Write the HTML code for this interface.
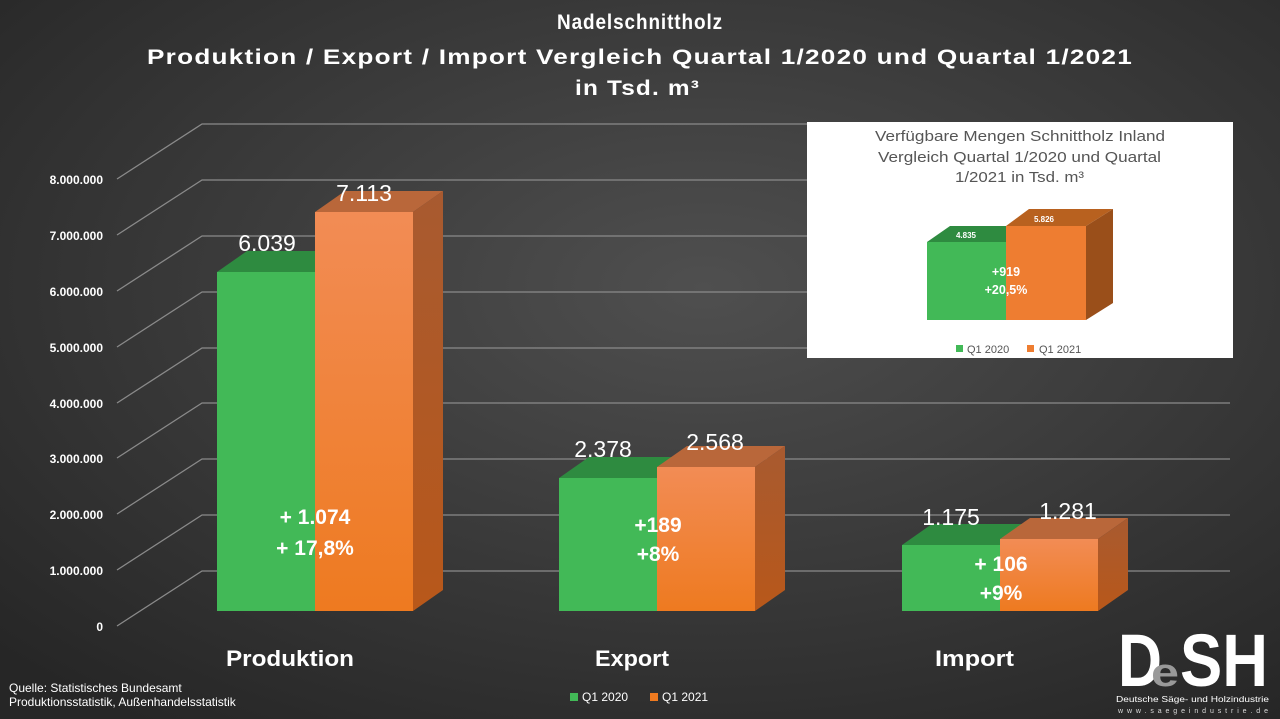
<!DOCTYPE html>
<html><head><meta charset="utf-8"><style>
html,body{margin:0;padding:0;width:1280px;height:719px;overflow:hidden;background:#333}
svg{display:block}
text{font-family:"Liberation Sans",sans-serif}
</style></head><body>
<svg width="1280" height="719" viewBox="0 0 1280 719" xmlns="http://www.w3.org/2000/svg">
<defs>
<radialGradient id="bg" cx="0.55" cy="0.4" r="0.75">
<stop offset="0" stop-color="#4f4f4f"/><stop offset="1" stop-color="#262626"/></radialGradient>
<linearGradient id="og" x1="0" y1="0" x2="0" y2="1"><stop offset="0" stop-color="#f28c55"/><stop offset="1" stop-color="#ee7a20"/></linearGradient>
<linearGradient id="os" x1="0" y1="0" x2="0" y2="1"><stop offset="0" stop-color="#a85a30"/><stop offset="1" stop-color="#b8581a"/></linearGradient>
</defs>
<rect width="1280" height="719" fill="url(#bg)"/>
<g fill="#fff" font-weight="bold" font-size="21" style="letter-spacing:1px">
<text x="557" y="29" textLength="166" lengthAdjust="spacingAndGlyphs">Nadelschnittholz</text>
<text x="147" y="64" textLength="986" lengthAdjust="spacingAndGlyphs">Produktion / Export / Import Vergleich Quartal 1/2020 und Quartal 1/2021</text>
<text x="575" y="95" textLength="125" lengthAdjust="spacingAndGlyphs">in Tsd. m³</text>
</g>
<g stroke="#8a8a8a" stroke-width="1.3" fill="none">
<polyline points="117,626 202,571 1230,571"/>
<polyline points="117,570 202,515 1230,515"/>
<polyline points="117,514 202,459 1230,459"/>
<polyline points="117,458 202,403 1230,403"/>
<polyline points="117,403 202,348 1230,348"/>
<polyline points="117,347 202,292 1230,292"/>
<polyline points="117,291 202,236 1230,236"/>
<polyline points="117,235 202,180 1230,180"/>
<polyline points="117,179 202,124 1230,124"/>
</g>
<g fill="#fff" font-weight="bold" font-size="12" text-anchor="end">
<text x="103" y="631">0</text><text x="103" y="575">1.000.000</text><text x="103" y="519">2.000.000</text>
<text x="103" y="463">3.000.000</text><text x="103" y="408">4.000.000</text><text x="103" y="352">5.000.000</text>
<text x="103" y="296">6.000.000</text><text x="103" y="240">7.000.000</text><text x="103" y="184">8.000.000</text>
</g>
<polygon points="217,272 247,251 345,251 315,272" fill="#2e8b40"/>
<rect x="217" y="272" width="98" height="339" fill="#42b957"/>
<polygon points="315,212 345,191 443,191 413,212" fill="#b9673a"/>
<polygon points="413,212 443,191 443,590 413,611" fill="url(#os)"/>
<rect x="315" y="212" width="98" height="399" fill="url(#og)"/>
<polygon points="559,478 589,457 687,457 657,478" fill="#2e8b40"/>
<rect x="559" y="478" width="98" height="133" fill="#42b957"/>
<polygon points="657,467 687,446 785,446 755,467" fill="#b9673a"/>
<polygon points="755,467 785,446 785,590 755,611" fill="url(#os)"/>
<rect x="657" y="467" width="98" height="144" fill="url(#og)"/>
<polygon points="902,545 932,524 1030,524 1000,545" fill="#2e8b40"/>
<rect x="902" y="545" width="98" height="66" fill="#42b957"/>
<polygon points="1000,539 1030,518 1128,518 1098,539" fill="#b9673a"/>
<polygon points="1098,539 1128,518 1128,590 1098,611" fill="url(#os)"/>
<rect x="1000" y="539" width="98" height="72" fill="url(#og)"/>
<g fill="#fff" font-size="23" text-anchor="middle">
<text x="267" y="251">6.039</text><text x="364" y="201">7.113</text>
<text x="603" y="457">2.378</text><text x="715" y="450">2.568</text>
<text x="951" y="525">1.175</text><text x="1068" y="519">1.281</text>
</g>
<g fill="#fff" font-size="21" font-weight="bold" text-anchor="middle">
<text x="315" y="524">+ 1.074</text><text x="315" y="555">+ 17,8%</text>
<text x="658" y="532">+189</text><text x="658" y="561">+8%</text>
<text x="1001" y="571">+ 106</text><text x="1001" y="600">+9%</text>
</g>
<g fill="#fff" font-size="22" font-weight="bold">
<text x="226" y="666" textLength="128" lengthAdjust="spacingAndGlyphs">Produktion</text>
<text x="595" y="666" textLength="74" lengthAdjust="spacingAndGlyphs">Export</text>
<text x="935" y="666" textLength="79" lengthAdjust="spacingAndGlyphs">Import</text>
</g>
<g fill="#fff" font-size="12">
<text x="9" y="692">Quelle: Statistisches Bundesamt</text>
<text x="9" y="706">Produktionsstatistik, Außenhandelsstatistik</text>
<rect x="570" y="693" width="8" height="8" fill="#42b957"/><text x="582" y="701">Q1 2020</text>
<rect x="650" y="693" width="8" height="8" fill="#ee7a20"/><text x="662" y="701">Q1 2021</text>
</g>
<rect x="807" y="122" width="426" height="236" fill="#fff"/>
<g fill="#555" font-size="15">
<text x="875" y="141" textLength="290" lengthAdjust="spacingAndGlyphs">Verfügbare Mengen Schnittholz Inland</text>
<text x="878" y="162" textLength="283" lengthAdjust="spacingAndGlyphs">Vergleich Quartal 1/2020 und Quartal</text>
<text x="955" y="182" textLength="129" lengthAdjust="spacingAndGlyphs">1/2021 in Tsd. m³</text>
</g>
<polygon points="927,242 950,226 1006,226 1006,242" fill="#2e8b40"/>
<rect x="927" y="242" width="79" height="78" fill="#42b957"/>
<polygon points="1006,226 1029,209 1113,209 1086,226" fill="#b8611f"/>
<polygon points="1086,226 1113,209 1113,303 1086,320" fill="#9a4f1a"/>
<rect x="1006" y="226" width="80" height="94" fill="#ee7d31"/>
<g fill="#fff" font-size="8" font-weight="bold" text-anchor="middle">
<text x="966" y="238">4.835</text><text x="1044" y="222">5.826</text>
</g>
<g fill="#fff" font-size="12.5" font-weight="bold" text-anchor="middle">
<text x="1006" y="276">+919</text><text x="1006" y="294">+20,5%</text>
</g>
<g fill="#555" font-size="11">
<rect x="956" y="345" width="7" height="7" fill="#42b957"/><text x="967" y="353">Q1 2020</text>
<rect x="1027" y="345" width="7" height="7" fill="#ee7d31"/><text x="1039" y="353">Q1 2021</text>
</g>
<g font-weight="bold" font-size="74">
<text x="1118" y="686" fill="#fff" textLength="44" lengthAdjust="spacingAndGlyphs">D</text>
<text x="1151" y="686" fill="#999" font-size="40" textLength="28" lengthAdjust="spacingAndGlyphs">e</text>
<text x="1180" y="686" fill="#fff" textLength="88" lengthAdjust="spacingAndGlyphs">SH</text>
</g>
<text x="1116" y="702" fill="#fff" font-size="8.5" textLength="153" lengthAdjust="spacingAndGlyphs">Deutsche Säge- und Holzindustrie</text>
<text x="1118" y="713" fill="#ddd" font-size="7" textLength="150" lengthAdjust="spacing">www.saegeindustrie.de</text>
</svg>
</body></html>
